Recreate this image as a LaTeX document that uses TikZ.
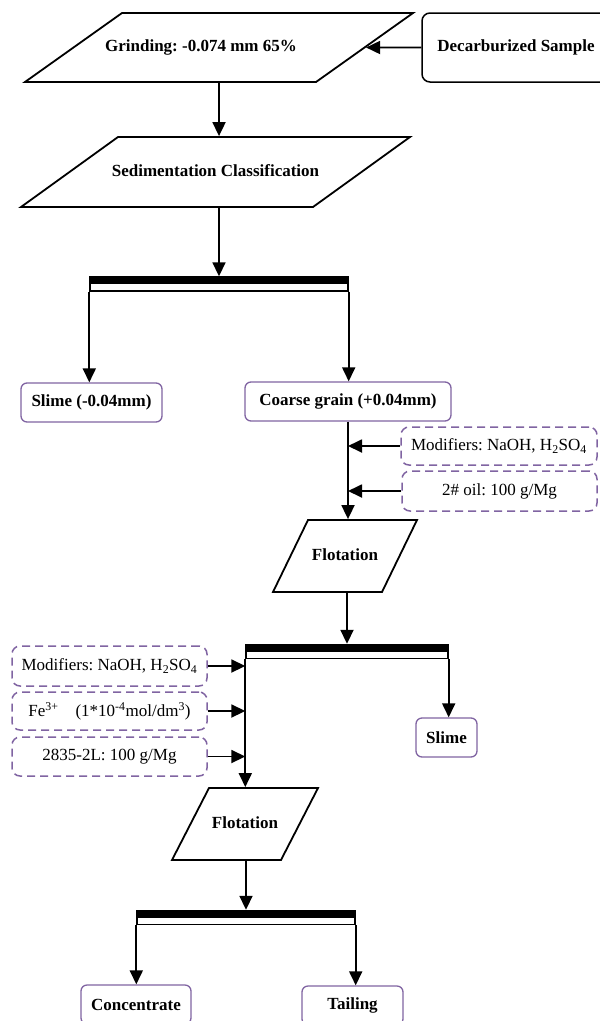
\documentclass[tikz,border=0pt]{standalone}
\usepackage{fontspec}
\setmainfont{Liberation Serif}
\usepackage{tikz}
\usetikzlibrary{shapes.geometric}
\usetikzlibrary{arrows.meta}
\definecolor{boxpurple}{HTML}{8064A2}
\frenchspacing

\begin{document}
\begin{tikzpicture}[x=1pt,y=-1pt,
  font=\fontsize{17}{20}\selectfont,
  flow/.style={line width=1.8pt,-{Triangle[length=14pt,width=13pt]}},
  para/.style={trapezium,draw,line width=1.8pt,inner xsep=0pt,text height=12pt,text depth=4pt,font=\fontsize{17}{20}\selectfont\bfseries},
  srcbox/.style={draw,line width=1.5pt,rounded corners=8pt,inner sep=0pt,font=\fontsize{17}{20}\selectfont\bfseries},
  prodbox/.style={draw=boxpurple,line width=1.3pt,rounded corners=6pt,minimum height=39,inner sep=0pt,font=\fontsize{17}{20}\selectfont\bfseries},
  reagent/.style={draw=boxpurple,line width=1.5pt,dash pattern=on 8pt off 5pt,rounded corners=8pt,minimum width=196,minimum height=39,inner sep=0pt},
  splitter/.style={draw,line width=1.4pt,minimum height=14,inner sep=0pt,
    path picture={\fill ([yshift=1pt]path picture bounding box.north west) rectangle ([yshift=-7pt]path picture bounding box.north east);}}]
\useasboundingbox (0,0) rectangle (600,1021);

\node[para,trapezium left angle=35.42,trapezium right angle=144.58,inner ysep=26.5pt] (grind) at (219,47.5) {\makebox[194pt]{Grinding: -0.074 mm 65\%\hspace{36pt}}};
\node[srcbox,minimum width=188,minimum height=69] (decarb) at (516,47.5) {Decarburized Sample};
\node[para,trapezium left angle=35.82,trapezium right angle=144.18,inner ysep=27pt] (sediment) at (215.5,172) {\makebox[195pt]{Sedimentation Classification}};
\node[splitter,minimum width=258] (bar1) at (219,284) {};
\node[prodbox,minimum width=141] (slime1) at (91.5,402.5) {Slime (-0.04mm)};
\node[prodbox,minimum width=206] (coarse) at (348,401.5) {Coarse grain (+0.04mm)};
\node[reagent,minimum height=38] (mod1) at (499,446) {Modifiers: NaOH, H\textsubscript{2}SO\textsubscript{4}};
\node[reagent,minimum width=195,minimum height=40] (oil) at (499.5,491) {2\# oil: 100 g/Mg};
\node[para,trapezium left angle=64.07,trapezium right angle=115.93,inner ysep=28pt] (flot1) at (345,556) {\makebox[74pt]{Flotation}};
\node[splitter,minimum width=202] (bar2) at (347,651.5) {};
\node[prodbox,minimum width=61] (slime2) at (446.5,737.5) {Slime};
\node[reagent,minimum width=195,minimum height=40] (mod2) at (109.5,666) {Modifiers: NaOH, H\textsubscript{2}SO\textsubscript{4}};
\node[reagent,minimum width=195,minimum height=38] (fe) at (109.5,711) {Fe\textsuperscript{3+}\quad(1*10\textsuperscript{-4}mol/dm\textsuperscript{3})};
\node[reagent,minimum width=195] (l2835) at (109.5,756.5) {2835-2L: 100 g/Mg};
\node[para,trapezium left angle=62.8,trapezium right angle=117.2,inner ysep=28pt] (flot2) at (245,824) {\makebox[72pt]{Flotation}};
\node[splitter,minimum width=218] (bar3) at (246,917.5) {};
\node[prodbox,minimum width=110] (conc) at (136,1004.5) {Concentrate};
\node[prodbox,minimum width=101] (tail) at (352.5,1005.5) {Tailing};

\draw[flow] (decarb.west) -- (grind);
\draw[flow] (grind.south) -- (grind.south |- sediment.north);
\draw[flow] (bar1.north |- sediment.south) -- (bar1.north);
\draw[flow] (bar1.south west) -- (bar1.south west |- slime1.north);
\draw[flow] (bar1.south east) -- (bar1.south east |- coarse.north);
\draw[flow] (coarse.south) -- (coarse.south |- flot1.north);
\draw[flow] (mod1.west) -- (mod1.west -| coarse.south);
\draw[flow] (oil.west) -- (oil.west -| coarse.south);
\draw[flow] (bar2.north |- flot1.south) -- (bar2.north);
\draw[flow] (bar2.south east) -- (bar2.south east |- slime2.north);
\draw[flow] (bar2.south west) -- (bar2.south west |- flot2.north);
\draw[flow] (mod2.east) -- (mod2.east -| bar2.south west);
\draw[flow] (fe.east) -- (fe.east -| bar2.south west);
\draw[flow] (l2835.east) -- (l2835.east -| bar2.south west);
\draw[flow] (bar3.north |- flot2.south) -- (bar3.north);
\draw[flow] (bar3.south west) -- (bar3.south west |- conc.north);
\draw[flow] (bar3.south east) -- (bar3.south east |- tail.north);
\end{tikzpicture}
\end{document}
